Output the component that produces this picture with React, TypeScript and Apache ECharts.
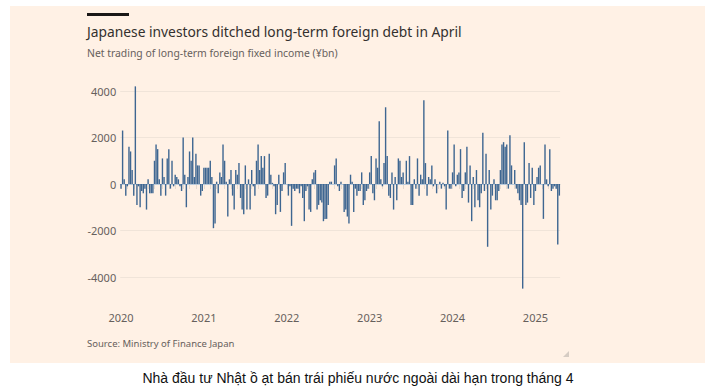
import React, { useEffect, useRef } from "react";
import * as echarts from "echarts";

// Weekly net trading of long-term foreign bonds by Japanese investors (¥bn)
const values2020 = [
  -200, 2300, 200, -500, -100, 1600, 1400, 600, -500, 4200, -900, -100, -1000,
  -300, -400, -200, -1100, 200, -400, -400, -400, 1000, 1700, 1500, 200, -500,
  1100, 300, -500, 1100, 1500, -200, 1000, -100, 400, 300, 200, -100, -300,
  2000, 400, -1000, 300, 1400, 1000, 2000, 300, 1300, 800, 800, -500, -300,
];
const values2021 = [
  700, 700, 700, 700, 1000, 300, -1900, -1700, 100, -400, 500, 300, 1700,
  1000, 100, -1400, 200, 600, -500, -1100, 600, 400, 900, -600, -1100, -1300,
  800, -1100, 200, -1100, 600, -100, -500, 1000, 1700, 600, 1200, 700, 1200,
  -600, -500, 1300, 400, 50, -100, -1300, -900, 400, -1200, -300, 500, 900,
];
const values2022 = [
  0, -500, -100, -1800, -200, -300, -200, -200, -400, -100, -600, -1600, -300,
  -100, -1100, -1200, 200, 500, 600, -1100, -900, -700, -800, -1600, -1500,
  -1500, -900, 100, 100, 0, 800, 1100, -100, -300, 100, 0, -1200, -1100, -1400,
  -1700, 400, 100, -1200, -200, -500, -300, -300, 500, -900, -700, -300, -200,
];
const values2023 = [
  500, 1200, -400, -700, 1100, 700, 2700, 200, -100, 900, 3300, 1200, -500,
  -600, 500, -1100, 300, -700, 1100, 1000, 300, 500, 0, 1000, 100, 1200, -900,
  -900, 200, -200, 1100, -500, 400, 200, 3600, 900, -500, 300, 200, 800, -100,
  200, -400, 0, 100, -200, 50, -100, -1100, 2300, -200, -200,
];
const values2024 = [
  500, 1700, -100, 400, 500, 1500, -600, -300, 500, 1600, -800, 800, -1600,
  300, -1000, 600, -700, -1000, -400, 2200, -300, 1300, -2700, 600, -1100, -500,
  200, -700, -700, -300, 600, 1700, 1800, 1600, 1700, -200, 2100, 800, 0, 600,
  -200, -400, -700, -900, -4500, 1800, -900, -800, 900, -600, 700, -900,
];
const values2025 = [
  -300, 300, 700, 800, 0, -1500, 1700, 200, -100, 1500, -300, -200, -100, -200,
  -2600, -500,
];

const years = ["2020", "2021", "2022", "2023", "2024", "2025"];
const yearValues = [values2020, values2021, values2022, values2023, values2024, values2025];
const yTickLabels = [-4000, -2000, 0, 2000, 4000];
// week index within a year where each month begins (for the small bottom ticks)
const monthStartWeeks = [0, 4, 8, 13, 17, 21, 26, 30, 34, 39, 43, 47];

const categories: string[] = [];
const values: number[] = [];
const monthTickSet = new Set<number>();
yearValues.forEach((arr, yi) => {
  arr.forEach((v, wi) => {
    if (monthStartWeeks.includes(wi)) monthTickSet.add(categories.length);
    categories.push(`${years[yi]}-W${wi + 1}`);
    values.push(v);
  });
});

const FONT = "'Noto Sans', 'Open Sans', sans-serif";

export default function App() {
  const ref = useRef<HTMLDivElement>(null);
  useEffect(() => {
    if (!ref.current) return;
    const chart = echarts.init(ref.current, undefined, { renderer: "svg" });
    const N = categories.length;
    const band = 1.594;
    const gridLeft = 121 - band / 2;
    chart.setOption({
      animation: false,
      backgroundColor: "transparent",
      grid: {
        left: gridLeft,
        width: band * N,
        top: 67.75,
        height: 232.5,
        containLabel: false,
      },
      xAxis: {
        type: "category",
        data: categories,
        boundaryGap: true,
        axisLine: { show: true, lineStyle: { color: "#efe3d8", width: 1 } },
        axisTick: {
          show: true,
          alignWithLabel: true,
          length: 5,
          interval: (idx: number) => monthTickSet.has(idx),
          lineStyle: { color: "#e6dacf", width: 1 },
        },
        axisLabel: {
          show: true,
          interval: (_idx: number, val: string) => val.endsWith("-W1"),
          formatter: (val: string) => val.slice(0, 4),
          color: "#66605c",
          fontSize: 11,
          fontFamily: FONT,
          margin: 12,
        },
        splitLine: { show: false },
      },
      yAxis: {
        type: "value",
        min: -5000,
        max: 5000,
        interval: 1000,
        axisLine: { show: false },
        axisTick: { show: false },
        axisLabel: {
          color: "#66605c",
          fontSize: 11,
          fontFamily: FONT,
          margin: 4,
          formatter: (v: number) => (yTickLabels.includes(v) ? String(v) : ""),
        },
        splitLine: {
          show: true,
          lineStyle: {
            color: [
              "transparent", "#f0e4d9", "transparent", "#f0e4d9", "transparent",
              "transparent", "transparent", "#f0e4d9", "transparent", "#f0e4d9", "transparent",
            ],
            width: 1,
          },
        },
      },
      series: [
        {
          type: "bar",
          data: values,
          barWidth: "88%",
          clip: false,
          itemStyle: { color: "#3e6691" },
          markLine: {
            silent: true,
            symbol: ["none", "none"],
            label: { show: false },
            lineStyle: { color: "#b9cadb", width: 1, type: "solid" },
            data: [{ yAxis: 0 }],
            z: 1,
          },
        },
      ],
      graphic: [
        { type: "rect", shape: { x: 87, y: 13, width: 42, height: 3 }, style: { fill: "#1a1817" } },
        {
          type: "text", x: 87, y: 31,
          style: {
            text: "Japanese investors ditched long-term foreign debt in April",
            fill: "#33302e", fontSize: 13.8, fontFamily: FONT,
            verticalAlign: "middle", align: "left",
          },
        },
        {
          type: "text", x: 87, y: 53,
          style: {
            text: "Net trading of long-term foreign fixed income (¥bn)",
            fill: "#66605c", fontSize: 10.4, fontFamily: FONT,
            verticalAlign: "middle", align: "left",
          },
        },
        {
          type: "text", x: 87, y: 343,
          style: {
            text: "Source: Ministry of Finance Japan",
            fill: "#66605c", fontSize: 9.5, fontFamily: FONT,
            verticalAlign: "middle", align: "left",
          },
        },
        {
          type: "polygon",
          shape: { points: [[563, 357], [569, 351], [569, 357]] },
          style: { fill: "#d6ccc3" },
        },
        {
          type: "text", x: 358, y: 378,
          style: {
            text: "Nhà đầu tư Nhật ồ ạt bán trái phiếu nước ngoài dài hạn trong tháng 4",
            fill: "#111111", fontSize: 14, fontFamily: "'Liberation Sans', Arial, sans-serif",
            verticalAlign: "middle", align: "center",
          },
        },
      ],
    });
    return () => chart.dispose();
  }, []);

  return (
    <div style={{ position: "absolute", left: 0, top: 0, width: 716, height: 391, background: "#ffffff" }}>
      <div style={{ position: "absolute", left: 10, top: 6, width: 695, height: 357, background: "#fff1e5" }} />
      <div ref={ref} style={{ position: "absolute", left: 0, top: 0, width: 716, height: 391 }} />
    </div>
  );
}
